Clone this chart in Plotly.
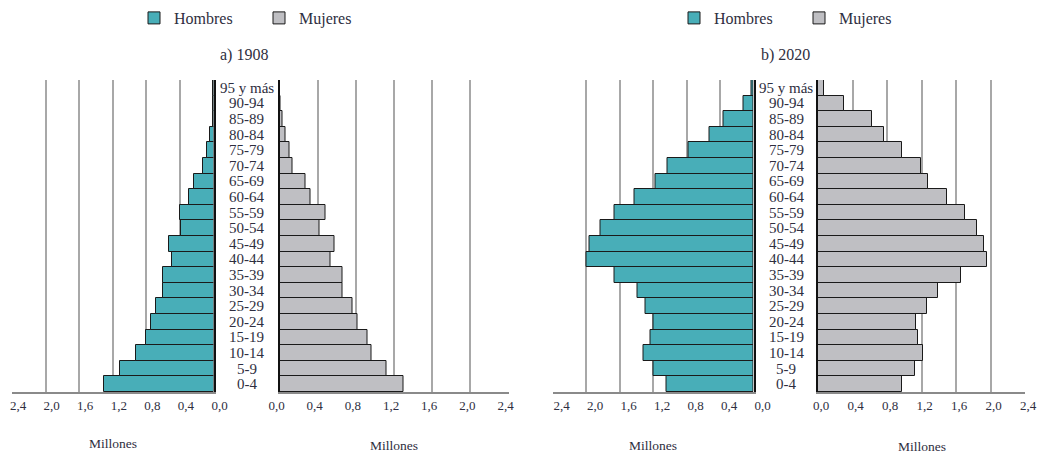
import plotly.graph_objects as go

# ---------------- data ----------------
age_groups = ["0-4", "5-9", "10-14", "15-19", "20-24", "25-29", "30-34", "35-39",
              "40-44", "45-49", "50-54", "55-59", "60-64", "65-69", "70-74", "75-79",
              "80-84", "85-89", "90-94", "95 y más"]

men_1908 = [1.31, 1.11, 0.92, 0.80, 0.75, 0.68, 0.60, 0.60, 0.50, 0.53, 0.39, 0.40,
            0.29, 0.23, 0.12, 0.075, 0.04, 0.01, 0.005, 0.003]
women_1908 = [1.30, 1.12, 0.96, 0.92, 0.82, 0.77, 0.66, 0.66, 0.53, 0.58, 0.42, 0.48,
              0.32, 0.27, 0.14, 0.10, 0.06, 0.03, 0.014, 0.005]
men_2020 = [1.04, 1.20, 1.31, 1.23, 1.20, 1.29, 1.39, 1.66, 2.00, 1.96, 1.83, 1.66,
            1.42, 1.17, 1.03, 0.78, 0.53, 0.36, 0.12, 0.024]
women_2020 = [0.97, 1.13, 1.22, 1.16, 1.14, 1.26, 1.39, 1.66, 1.96, 1.92, 1.84, 1.71,
              1.50, 1.27, 1.19, 0.97, 0.76, 0.63, 0.30, 0.073]

tick_vals = [0.0, 0.4, 0.8, 1.2, 1.6, 2.0, 2.4]
panel_titles = ["a) 1908", "b) 2020"]
series_names = ["Hombres", "Mujeres"]
axis_title = "Millones"

# ---------------- style ----------------
W, H = 1038, 454
TEAL = "#48aeb8"
GREY = "#bfbfc3"
TXT = "#2e2e40"
FONT = "Liberation Serif"

def px(x):
    return x / W

def py(y):
    return 1 - y / H

y_dom = [py(392), py(80)]
x_doms = [
    [px(12), px(213.5)],
    [px(279.5), px(508.5)],
    [px(552.5), px(753.5)],
    [px(818), px(1025)],
]
# shift along the axis direction (men axes are reversed)
label_shift = [-6, -3, -9, 3]

fig = go.Figure()

data_sets = [(men_1908, women_1908, "legend"), (men_2020, women_2020, "legend2")]
for p, (men, women, lg) in enumerate(data_sets):
    ax_m = 2 * p + 1
    ax_w = 2 * p + 2
    fig.add_trace(go.Bar(
        x=men, y=age_groups, orientation="h", name=series_names[0],
        marker=dict(color=TEAL, line=dict(color="#1a1a1a", width=1)),
        xaxis="x" if ax_m == 1 else f"x{ax_m}", yaxis="y" if ax_m == 1 else f"y{ax_m}",
        legend=lg, hoverinfo="x+y"))
    fig.add_trace(go.Bar(
        x=women, y=age_groups, orientation="h", name=series_names[1],
        marker=dict(color=GREY, line=dict(color="#1a1a1a", width=1)),
        xaxis=f"x{ax_w}", yaxis=f"y{ax_w}",
        legend=lg, hoverinfo="x+y"))

layout = dict(
    width=W, height=H,
    margin=dict(l=0, r=0, t=0, b=0, autoexpand=False),
    paper_bgcolor="white", plot_bgcolor="white",
    bargap=0,
    separators=",.",
    font=dict(family=FONT, color=TXT, size=14),
    showlegend=True,
)

for i in range(4):
    k = "" if i == 0 else str(i + 1)
    is_men = (i % 2 == 0)
    layout[f"xaxis{k}"] = dict(
        domain=x_doms[i],
        anchor=f"y{k}",
        range=[2.4, 0] if is_men else [0, 2.4],
        tickvals=tick_vals,
        tickformat=".1f",
        showgrid=True, gridcolor="#a8a8a8", gridwidth=1.5,
        zeroline=False,
        showline=True, linecolor="#8a8a8a", linewidth=1.5,
        ticks="", ticklen=0,
        ticklabelshift=label_shift[i],
        ticklabelstandoff=1,
        ticklabeloverflow="allow",
        automargin=False,
        tickfont=dict(family=FONT, size=13, color=TXT),
        fixedrange=True,
    )
    layout[f"yaxis{k}"] = dict(
        domain=y_dom,
        anchor=f"x{k}",
        type="category",
        categoryorder="array", categoryarray=age_groups,
        range=[-0.5, 19.5],
        side="right" if is_men else "left",
        showticklabels=False, showgrid=False, zeroline=False,
        showline=True, linecolor="#111111", linewidth=1.5,
        ticks="",
        automargin=False,
        fixedrange=True,
    )

for name, lx in [("legend", 134), ("legend2", 674)]:
    layout[name] = dict(
        orientation="h", x=px(lx), xanchor="left", y=py(1), yanchor="top",
        entrywidth=80, entrywidthmode="pixels",
        font=dict(family=FONT, size=16, color=TXT), bgcolor="rgba(0,0,0,0)",
        itemclick=False, itemdoubleclick=False,
    )

annotations = []
# panel titles
for title, cx in zip(panel_titles, [244, 785]):
    annotations.append(dict(text=title, x=px(cx), y=py(55), xref="paper", yref="paper",
                            showarrow=False, xanchor="center", yanchor="middle",
                            font=dict(family=FONT, size=16, color=TXT)))
# age-group labels between the halves
for cx, yref in [(246.5, "y"), (786, "y3")]:
    for ag in age_groups:
        annotations.append(dict(text=ag, x=px(cx), y=ag, xref="paper", yref=yref,
                                showarrow=False, xanchor="center", yanchor="middle",
                                font=dict(family=FONT, size=15, color=TXT)))
# "Millones" axis titles
for i, yy in enumerate([443, 445, 445, 446]):
    k = "x" if i == 0 else f"x{i + 1}"
    annotations.append(dict(text=axis_title, x=0.5, y=py(yy), xref=f"{k} domain", yref="paper",
                            showarrow=False, xanchor="center", yanchor="middle",
                            font=dict(family=FONT, size=13.5, color=TXT)))
layout["annotations"] = annotations

fig.update_layout(**layout)
fig.write_html("out.html",
               config={"displayModeBar": False},
               post_script="document.body.style.margin='0';document.body.style.overflow='hidden';")
